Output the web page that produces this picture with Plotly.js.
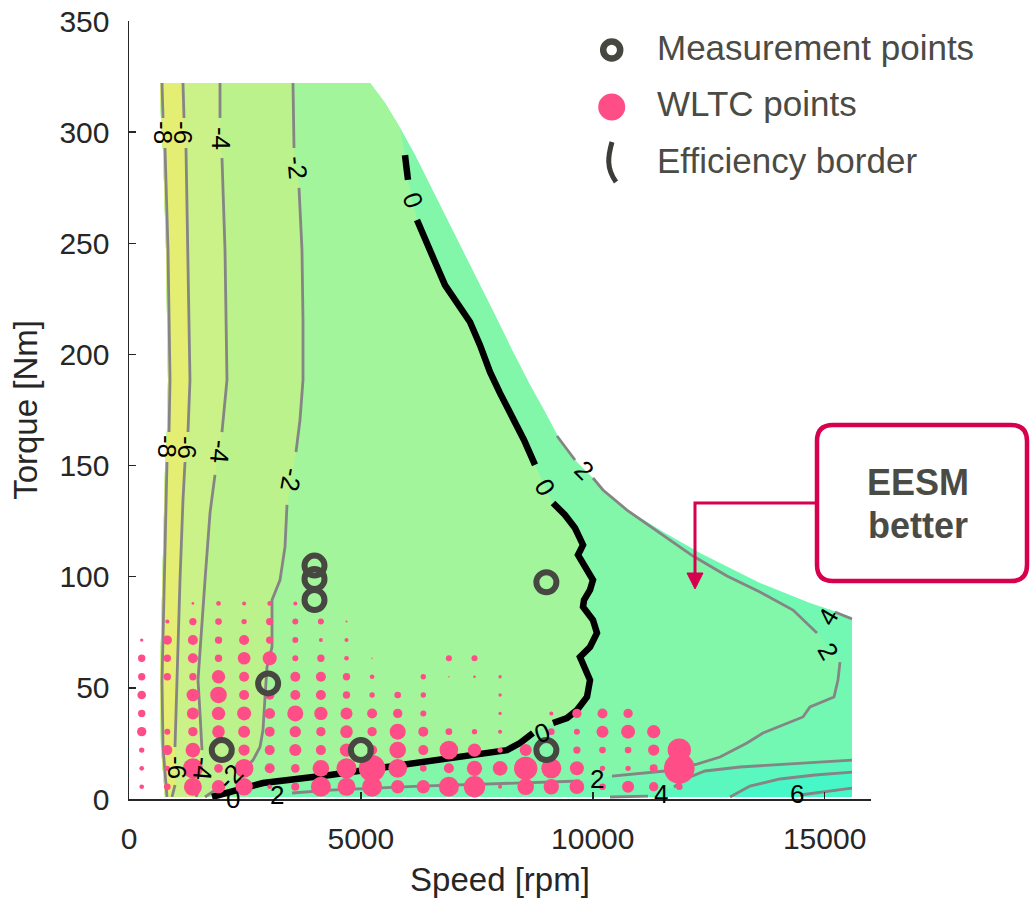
<!DOCTYPE html>
<html>
<head>
<meta charset="utf-8">
<script src="https://cdn.plot.ly/plotly-3.0.1.min.js"></script>
<style>
  html, body { margin: 0; padding: 0; background: #ffffff; }
  #chart { width: 1030px; height: 900px; }
</style>
</head>
<body>
<div id="chart"></div>
<script>
// ================= DATA =================
// Operating envelope of the map (speed in rpm, torque in Nm)
const envLeftRpm    = [776, 690, 668, 712, 776, 819, 841, 798, 733, 690, 668];
const envLeftTorque = [0.9, 23.4, 53.5, 98.5, 148.0, 166.0, 188.5, 247.0, 292.0, 306.4, 322.1];
const envOuterRpm    = [5197, 5520, 5844, 6167, 6490, 6814, 7137, 7525, 7892, 8259, 8647, 8970, 9294, 9833, 10587, 11450, 12312, 13606, 14684, 15590, 15590];
const envOuterTorque = [322.1, 313.1, 301.9, 289.7, 276.2, 262.7, 249.2, 233.5, 217.7, 202.0, 186.2, 174.1, 161.5, 146.7, 132.3, 121.0, 110.7, 97.2, 88.2, 81.9, 0.9];

// Contour lines of the efficiency difference (null = gap for a label)
const cM8Rpm    = [712, 733, null, 776, 841, 884, 863, null, 819, 755, 712, 733, 819];
const cM8Torque = [322.1, 306.4, null, 292.9, 247.0, 188.5, 165.1, null, 151.6, 98.5, 52.6, 23.4, 0.9];

const cM6Rpm    = [1164, 1186, null, 1229, 1272, 1315, 1272, null, 1208, 1164, 1100, 1035, 992, null, 992, 927];
const cM6Torque = [322.1, 306.4, null, 292.9, 247.0, 188.5, 165.1, null, 151.6, 134.5, 98.5, 52.6, 23.4, null, 6.3, 0.9];

const cM4Rpm    = [1962, 1962, null, 2005, 2070, 2113, 2005, null, 1854, 1747, 1639, 1488, 1531, 1574, null, 1531, 1445];
const cM4Torque = [322.1, 306.4, null, 288.4, 247.0, 188.5, 165.1, null, 145.8, 128.7, 98.5, 53.5, 38.7, 22.0, null, 5.4, 0.9];

const cM2Rpm    = [3536, 3558, null, 3666, 3730, 3752, 3752, 3687, 3601, null, 3407, 3364, 3256, 3084, 3084, 2976, 2933, 2889, 2825, 2674, 2394, null, 1854, 1639];
const cM2Torque = [322.1, 292.9, null, 274.9, 247.0, 215.5, 188.5, 170.5, 156.1, null, 132.3, 113.4, 98.5, 89.5, 68.4, 59.4, 45.9, 31.0, 23.4, 17.5, 11.7, null, 4.0, 0.9];

// Efficiency border (0 contour)
const borderRpm    = [5951, 6016, null, 6210, 6383, 6598, 6814, 7094, 7353, 7569, 7784, 8000, 8259, 8517, 8755, null, 9143, 9401, 9617, 9790, 9682, 9833, 10005, 9941, 9811, 9790, 10005, 10091, 9941, 9725, 9833, 9941, 9876, 9660, 9445, 9143, null, 8711, 8431, 8151, 7720, 6986, 6275, 5477, 4334, 2889, 2178, 1790];
const borderTorque = [289.7, 278.5, null, 260.5, 251.5, 241.6, 231.2, 222.2, 214.6, 204.2, 192.1, 182.6, 172.7, 161.5, 150.3, null, 133.2, 127.8, 121.9, 114.3, 109.8, 104.4, 98.5, 94.0, 89.5, 86.4, 80.5, 74.7, 68.4, 63.9, 59.4, 53.5, 45.9, 40.0, 36.4, 34.2, null, 29.7, 25.2, 22.0, 20.7, 18.4, 16.2, 13.9, 10.8, 7.2, 3.6, 0.9];

const cP2Rpm    = [9229, 9445, 9617, null, 10005, 10221, 10738, 11450, 12162, 12895, 13606, 14318, 14835, null, 15331, 15288, 15202, 14684, 14533, 13671, 13326, 12744, 12248, 11558, 10415, null, 9725, 8431, 6275, 4334, 3515, null, 2868];
const cP2Torque = [163.3, 157.0, 152.5, null, 144.4, 139.0, 130.0, 119.7, 109.3, 100.3, 93.1, 85.0, 74.7, null, 61.6, 53.5, 45.9, 41.4, 36.9, 29.7, 25.2, 18.9, 15.7, 12.6, 10.3, null, 8.1, 7.2, 5.8, 4.0, 2.7, null, 0.9];

const cP4TopRpm    = [15223, 15590];
const cP4TopTorque = [84.1, 81.0];
const cP4Rpm    = [15590, 14253, 13175, 12420, 11989, 11752, null, 11191, 10372];
const cP4Torque = [17.5, 15.7, 14.4, 12.6, 9.0, 5.4, null, 1.3, 0.9];

const cP6Rpm    = [15590, 14792, 14037, 13390, 12960];
const cP6Torque = [12.1, 10.8, 9.0, 5.8, 0.9];
const cP6bRpm    = [14469, 15590];
const cP6bTorque = [1.8, 4.9];

// Contour labels
const labelText   = ['-8', '-6', '-4', '-2', '-8', '-6', '-4', '-2', '0', '0', '0', '2', '4', '2', '2', '4', '6', '2', '0', '-6', '-4', '-2'];
const labelRpm    = [733, 1164, 1984, 3623, 819, 1251, 1962, 3493, 6124, 8970, 8906, 9811, 15073, 15073, 10091, 11472, 14404, 3191, 2243, 1035, 1596, 2178];
const labelTorque = [299.6, 299.6, 297.4, 284.3, 158.4, 158.4, 156.1, 143.5, 269.5, 140.4, 29.7, 148.0, 81.9, 66.6, 9.0, 2.2, 2.2, 1.8, 0.0, 14.4, 13.9, 9.9];

// WLTC operating points: grid of speed / torque bins and relative weight (marker diameter units)
const wltcSpeed  = [274, 826, 1378, 1930, 2482, 3034, 3586, 4138, 4690, 5242, 5794, 6346, 6898, 7450, 8002, 8554, 9106, 9658, 10210, 10762, 11314, 11866];
const wltcTorque = [5.5, 13.8, 22.0, 30.3, 38.5, 46.8, 55.0, 63.3, 71.5, 79.8, 88.0];
const wltcWeight = [
  [14, 20, 54, 40, 52, 14, 24, 60, 54, 60, 40, 40, 60, 64, 12, 50, 46, 44, 20, 36, 28, 20],
  [14, 16, 60, 26, 56, 30, 26, 50, 60, 80, 56, 20, 30, 46, 44, 70, 60, 42, 16, 16, 24, 92],
  [16, 30, 44,  0, 34, 30, 36, 30, 40, 30, 50, 30, 56, 40, 16, 36,  0, 22, 20, 20, 34, 70],
  [28, 18, 28, 38, 36, 30, 34, 28, 38, 28, 48, 30, 20, 16, 12,  0, 20, 18, 36, 42, 40,  0],
  [22,  0, 36, 40, 42, 32, 48, 40, 36, 30, 28, 18,  0,  0, 10,  0, 12, 28, 30, 28,  0,  0],
  [26,  0, 38, 50, 30, 28, 30, 30, 22, 16, 20, 16,  0,  0, 10,  0,  0,  0,  0,  0,  0,  0],
  [22, 22, 22, 40, 30,  0, 30, 30, 22, 14,  0, 16,  4,  8, 10,  0,  0,  0,  0,  0,  0,  0],
  [22, 22, 30, 22, 38, 42, 18, 22, 14,  4,  0,  0, 18, 18,  0,  0,  0,  0,  0,  0,  0,  0],
  [10, 28, 30, 22, 30, 22, 18, 12, 12,  0,  0,  0,  0,  0,  0,  0,  0,  0,  0,  0,  0,  0],
  [ 0, 12, 22, 20, 16, 22, 18, 18,  6,  0,  0,  0,  0,  0,  0,  0,  0,  0,  0,  0,  0,  0],
  [ 0,  0,  8, 14, 12, 14, 12,  0,  0,  0,  0,  0,  0,  0,  0,  0,  0,  0,  0,  0,  0,  0]
];

// Measurement points
const measRpm    = [2000, 3000, 4000, 4000, 4000, 5000, 9000, 9000];
const measTorque = [22, 52, 105, 99, 89.5, 22, 97.5, 22];

// Axis ticks
const xTickVals = [0, 5000, 10000, 15000];
const xTickText = ['0', '5000', '10000', '15000'];
const yTickVals = [0, 50, 100, 150, 200, 250, 300, 350];
const yTickText = ['0', '50', '100', '150', '200', '250', '300', '350'];

// ================= STYLE =================
const FONT = 'Liberation Sans, Arial, Helvetica, sans-serif';
const bandColors = {
  p2p4: '#72f8b3', z0p2: '#82f7a9', m2z0: '#a2f59b', m4m2: '#bcf28c',
  m6m4: '#cbf189', m8m6: '#e3ee72', p4p6: '#5af8bf', p6up: '#46f8c8'
};
const contourGray = '#858585';
const labelAngle = [90, 90, 90, 85, 90, 90, 95, 100, 70, 60, -20, 45, -60, 60, 0, 0, 0, 0, 0, 90, 95, -45];

// ================= BUILD =================
function clean(xs, ys) {
  const X = [], Y = [];
  for (let i = 0; i < xs.length; i++) {
    if (xs[i] !== null && ys[i] !== null) { X.push(xs[i]); Y.push(ys[i]); }
  }
  return [X, Y];
}
function poly(xs, ys, color) {
  return { type: 'scatter', mode: 'lines', x: xs, y: ys, fill: 'toself', fillcolor: color,
           line: { width: 0, color: color }, hoverinfo: 'skip', showlegend: false };
}
function cline(xs, ys, color, width) {
  return { type: 'scatter', mode: 'lines', x: xs, y: ys, connectgaps: false,
           line: { color: color, width: width, shape: 'linear' }, hoverinfo: 'skip', showlegend: false };
}

const traces = [];
// A: whole envelope
traces.push(poly(envLeftRpm.concat(envOuterRpm), envLeftTorque.concat(envOuterTorque), bandColors.p2p4));
// B: inside the +2 contour
{
  const [x2, y2] = clean(cP2Rpm, cP2Torque);
  const keep = envOuterRpm.map((r, i) => i).filter(i => envOuterRpm[i] < x2[0]);
  traces.push(poly(envLeftRpm.concat(keep.map(i => envOuterRpm[i]), x2),
                   envLeftTorque.concat(keep.map(i => envOuterTorque[i]), y2), bandColors.z0p2));
}
// C: left of efficiency border
{
  const [xb, yb] = clean(borderRpm, borderTorque);
  const keep = envOuterRpm.map((r, i) => i).filter(i => envOuterRpm[i] < xb[0]);
  traces.push(poly(envLeftRpm.concat(keep.map(i => envOuterRpm[i]), xb),
                   envLeftTorque.concat(keep.map(i => envOuterTorque[i]), yb), bandColors.m2z0));
}
// D, E, F
[[cM2Rpm, cM2Torque, bandColors.m4m2], [cM4Rpm, cM4Torque, bandColors.m6m4], [cM6Rpm, cM6Torque, bandColors.m8m6]].forEach(([cx, cy, col]) => {
  const [x, y] = clean(cx, cy);
  traces.push(poly(envLeftRpm.concat(x), envLeftTorque.concat(y), col));
});
// G, H bottom-right bands
{
  const [x4, y4] = clean(cP4Rpm, cP4Torque);
  traces.push(poly(x4.concat([envOuterRpm[envOuterRpm.length - 1]]), y4.concat([envOuterTorque[envOuterTorque.length - 1]]), bandColors.p4p6));
  const [x6, y6] = clean(cP6Rpm, cP6Torque);
  traces.push(poly(x6.concat([envOuterRpm[envOuterRpm.length - 1]]), y6.concat([envOuterTorque[envOuterTorque.length - 1]]), bandColors.p6up));
}
// contour lines
[[cM8Rpm, cM8Torque], [cM6Rpm, cM6Torque], [cM4Rpm, cM4Torque], [cM2Rpm, cM2Torque],
 [cP2Rpm, cP2Torque], [cP4TopRpm, cP4TopTorque], [cP4Rpm, cP4Torque], [cP6Rpm, cP6Torque], [cP6bRpm, cP6bTorque]]
  .forEach(([cx, cy]) => traces.push(cline(cx, cy, contourGray, 2.8)));
// efficiency border
traces.push(cline(borderRpm, borderTorque, '#000000', 6.5));

// WLTC points
{
  const X = [], Y = [], S = [];
  wltcWeight.forEach((row, j) => row.forEach((w, i) => {
    if (w > 0) { X.push(wltcSpeed[i]); Y.push(wltcTorque[j]); S.push(w / 3); }
  }));
  traces.push({ type: 'scatter', mode: 'markers', x: X, y: Y, name: 'WLTC points',
    marker: { color: '#ff4d88', size: S, opacity: 1, line: { width: 0 } }, hoverinfo: 'skip', showlegend: false });
}
// Measurement points
traces.push({ type: 'scatter', mode: 'markers', x: measRpm, y: measTorque, name: 'Measurement points',
  marker: { symbol: 'circle-open', size: 20, opacity: 1, color: '#474741', line: { width: 6, color: '#474741' } },
  hoverinfo: 'skip', showlegend: false });

// ================= LAYOUT DECORATION =================
const ML = 129, MT = 21, PW = 742, PH = 778;
const PX = x => (x - ML) / PW;
const PY = y => (MT + PH - y) / PH;

const annotations = labelText.map((t, i) => ({
  x: labelRpm[i], y: labelTorque[i], xref: 'x', yref: 'y', text: t, showarrow: false,
  textangle: labelAngle[i], font: { family: FONT, size: 26, color: '#000000' }
}));

// legend texts
[['Measurement points', 47], ['WLTC points', 103.5], ['Efficiency border', 160]].forEach(([t, y]) => {
  annotations.push({ x: PX(655), y: PY(y), xref: 'paper', yref: 'paper', xanchor: 'left', yanchor: 'middle',
    text: t, showarrow: false, font: { family: FONT, size: 35, color: '#4b4b45' } });
});
// callout text
annotations.push({ x: PX(918), y: PY(482), xref: 'paper', yref: 'paper', xanchor: 'center', yanchor: 'middle',
  text: '<b>EESM</b>', showarrow: false, font: { family: FONT, size: 36, color: '#4b4b45' } });
annotations.push({ x: PX(918), y: PY(525), xref: 'paper', yref: 'paper', xanchor: 'center', yanchor: 'middle',
  text: '<b>better</b>', showarrow: false, font: { family: FONT, size: 36, color: '#4b4b45' } });

function roundRect(x0, y0, x1, y1, r) {
  // pixel coords in, paper path out (y0 top, y1 bottom in pixels)
  const a = PX(x0), b = PX(x1), t = PY(y0), btm = PY(y1);
  const rx = r / PW, ry = r / PH;
  return `M ${a + rx},${t} L ${b - rx},${t} Q ${b},${t} ${b},${t - ry} L ${b},${btm + ry} Q ${b},${btm} ${b - rx},${btm} ` +
         `L ${a + rx},${btm} Q ${a},${btm} ${a},${btm + ry} L ${a},${t - ry} Q ${a},${t} ${a + rx},${t} Z`;
}
const CRIMSON = '#d6004f';
const shapes = [
  { type: 'path', xref: 'paper', yref: 'paper', path: roundRect(817, 425, 1027, 581, 16),
    line: { color: CRIMSON, width: 4.5 }, fillcolor: '#ffffff', layer: 'above' },
  { type: 'path', xref: 'paper', yref: 'paper',
    path: `M ${PX(817)},${PY(503)} L ${PX(695)},${PY(503)} L ${PX(695)},${PY(577)}`,
    line: { color: CRIMSON, width: 3 }, layer: 'above' },
  { type: 'path', xref: 'paper', yref: 'paper',
    path: `M ${PX(687)},${PY(573)} L ${PX(703)},${PY(573)} L ${PX(695)},${PY(589)} Z`,
    line: { color: CRIMSON, width: 1 }, fillcolor: CRIMSON, layer: 'above' },
  // legend glyphs
  { type: 'circle', xref: 'paper', yref: 'paper', x0: PX(603.2), x1: PX(620.2), y0: PY(58.5), y1: PY(41.5),
    line: { color: '#474741', width: 6.5 }, fillcolor: 'rgba(0,0,0,0)' },
  { type: 'circle', xref: 'paper', yref: 'paper', x0: PX(598.2), x1: PX(625.2), y0: PY(120.5), y1: PY(93.5),
    line: { color: '#ff4d88', width: 0 }, fillcolor: '#ff4d88' },
  { type: 'path', xref: 'paper', yref: 'paper',
    path: `M ${PX(612)},${PY(142)} C ${PX(608)},${PY(156)} ${PX(606)},${PY(168)} ${PX(616)},${PY(182)}`,
    line: { color: '#3c3c38', width: 5 } }
];

const axisCommon = {
  ticks: 'inside', ticklen: 7, tickwidth: 1.5, tickcolor: '#262626',
  showline: true, linecolor: '#262626', linewidth: 1.5, mirror: false,
  showgrid: false, zeroline: false, fixedrange: true,
  tickfont: { family: FONT, size: 30, color: '#262626' }, ticklabelstandoff: 12
};

const layout = {
  width: 1030, height: 900,
  margin: { l: ML, r: 1030 - ML - PW, t: MT, b: 900 - MT - PH, pad: 0 },
  paper_bgcolor: '#ffffff', plot_bgcolor: '#ffffff',
  showlegend: false,
  font: { family: FONT, color: '#262626' },
  xaxis: Object.assign({}, axisCommon, {
    range: [0, 16000], tickmode: 'array', tickvals: xTickVals, ticktext: xTickText,
    title: { text: 'Speed [rpm]', font: { family: FONT, size: 33, color: '#262626' }, standoff: 14 }
  }),
  yaxis: Object.assign({}, axisCommon, {
    range: [0, 350], tickmode: 'array', tickvals: yTickVals, ticktext: yTickText,
    title: { text: 'Torque [Nm]', font: { family: FONT, size: 33, color: '#262626' }, standoff: 12 }
  }),
  shapes: shapes,
  annotations: annotations
};

Plotly.newPlot('chart', traces, layout, { displayModeBar: false, staticPlot: true });
</script>
</body>
</html>
